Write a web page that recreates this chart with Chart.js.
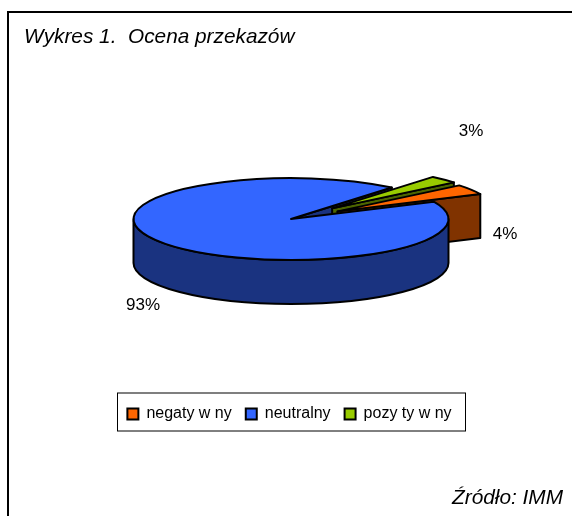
<!DOCTYPE html>
<html>
<head>
<meta charset="utf-8">
<script src="https://cdn.jsdelivr.net/npm/chart.js@4"></script>
<style>
  html, body { margin: 0; padding: 0; background: #fff; overflow: hidden; }
  #wrap { position: relative; width: 572px; height: 516px; }
  #frame { position: absolute; left: 7px; top: 11px; width: 565px; height: 505px; box-sizing: border-box;
           border-top: 2px solid #000; border-left: 2px solid #000; }
  canvas { position: absolute; left: 0; top: 0; }
  .note { position: absolute; font: italic 20.8px "Liberation Sans", Arial, sans-serif; color: #000; white-space: pre; }
</style>
</head>
<body>
<div id="wrap">
  <div id="frame"></div>
  <canvas id="pie" width="572" height="516"></canvas>
  <div class="note" style="left:24px;top:24px">Wykres 1.  Ocena przekazów</div>
  <div class="note" style="right:9px;top:485px">Źródło: IMM</div>
</div>
<script>
let categories = ['negaty w ny', 'neutralny', 'pozy ty w ny'];
let shares = [4, 93, 3];
let colors = ['#ff6600', '#3366ff', '#99cc00'];
let sideColors = ['#803300', '#1a3380', '#4d6600'];

// how the flat pie is tipped over
let squash = 0.26;
let depth = 44;
let centerX = 291;
let centerY = 219;
let explode = [55, 0, 58];
let labelAt = [[505, 234], [143, 305], [471, 131]];

function origin(arc, i) {
  let mid = (arc.startAngle + arc.endAngle) / 2;
  return {
    x: centerX + Math.cos(mid) * explode[i],
    y: centerY + Math.sin(mid) * explode[i] * squash
  };
}

function rim(arc, i, a) {
  let o = origin(arc, i);
  return {
    x: o.x + Math.cos(a) * arc.outerRadius,
    y: o.y + Math.sin(a) * arc.outerRadius * squash
  };
}

function paint(ctx, fill) {
  ctx.fillStyle = fill;
  ctx.strokeStyle = '#000';
  ctx.lineWidth = 2;
  ctx.lineJoin = 'round';
  ctx.fill();
  ctx.stroke();
}

function drawTop(ctx, arc, i) {
  let o = origin(arc, i);
  ctx.beginPath();
  ctx.moveTo(o.x, o.y);
  ctx.ellipse(o.x, o.y, arc.outerRadius, arc.outerRadius * squash, 0, arc.startAngle, arc.endAngle);
  ctx.closePath();
  paint(ctx, colors[i]);
}

// flat wall on the cut edge of a slice, from the apex out to the rim
function drawCutWall(ctx, arc, i, a) {
  let o = origin(arc, i);
  let r = rim(arc, i, a);
  ctx.beginPath();
  ctx.moveTo(o.x, o.y);
  ctx.lineTo(r.x, r.y);
  ctx.lineTo(r.x, r.y + depth);
  ctx.lineTo(o.x, o.y + depth);
  ctx.closePath();
  paint(ctx, sideColors[i]);
}

// curved wall under the rim, between two angles
function drawRimWall(ctx, arc, i, a0, a1) {
  let o = origin(arc, i);
  let rx = arc.outerRadius;
  let ry = rx * squash;
  ctx.beginPath();
  ctx.ellipse(o.x, o.y, rx, ry, 0, a0, a1);
  ctx.ellipse(o.x, o.y + depth, rx, ry, 0, a1, a0, true);
  ctx.closePath();
  paint(ctx, sideColors[i]);
}

let pie3d = {
  id: 'pie3d',
  beforeDatasetsDraw(chart) {
    let ctx = chart.ctx;
    let arcs = chart.getDatasetMeta(0).data;
    ctx.save();
    // back to front: blue cut wall, green, orange, then the big blue slice
    drawCutWall(ctx, arcs[1], 1, arcs[1].endAngle);
    drawCutWall(ctx, arcs[2], 2, arcs[2].endAngle);
    drawTop(ctx, arcs[2], 2);
    drawCutWall(ctx, arcs[0], 0, arcs[0].endAngle);
    drawTop(ctx, arcs[0], 0);
    drawRimWall(ctx, arcs[1], 1, 0, Math.PI);
    drawTop(ctx, arcs[1], 1);
    ctx.restore();
    return false;
  },
  afterDraw(chart) {
    let ctx = chart.ctx;
    let lg = chart.legend;
    ctx.save();
    // legend frame
    ctx.strokeStyle = '#000';
    ctx.lineWidth = 1;
    ctx.strokeRect(117.5, lg.top + lg.height / 2 - 19, 348, 38);
    // percent labels
    ctx.fillStyle = '#000';
    ctx.font = '17px "Liberation Sans", Arial, sans-serif';
    ctx.textAlign = 'center';
    ctx.textBaseline = 'middle';
    shares.forEach((v, i) => ctx.fillText(v + '%', labelAt[i][0], labelAt[i][1]));
    ctx.restore();
  }
};

new Chart(document.getElementById('pie'), {
  type: 'pie',
  data: {
    labels: categories,
    datasets: [{
      data: shares,
      backgroundColor: colors,
      borderColor: '#000',
      borderWidth: 2,
      radius: 157.5,
      rotation: 50.6
    }]
  },
  options: {
    responsive: false,
    animation: false,
    events: [],
    layout: { padding: { left: 7, right: 0, bottom: 84 } },
    plugins: {
      tooltip: { enabled: false },
      legend: {
        position: 'bottom',
        labels: {
          boxWidth: 11,
          boxHeight: 11,
          padding: 14,
          color: '#000',
          font: { family: '"Liberation Sans", Arial, sans-serif', size: 16 }
        }
      }
    }
  },
  plugins: [pie3d]
});
</script>
</body>
</html>
